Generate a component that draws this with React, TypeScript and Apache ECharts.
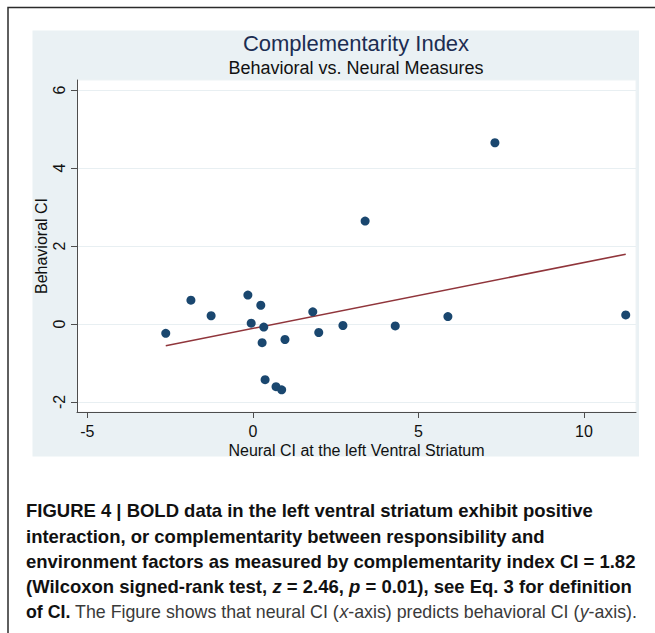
import React, { useEffect, useRef } from "react";
import * as echarts from "echarts";

// ---- data ----
const pointsX = [-2.63, -1.87, -1.26, -0.15, -0.05, 0.24, 0.33, 0.28, 0.97, 0.37, 0.7, 0.87, 1.81, 1.99, 2.72, 4.3, 5.89, 11.26, 3.39, 7.31];
const pointsY = [-0.24, 0.61, 0.21, 0.74, 0.02, 0.48, -0.08, -0.48, -0.4, -1.43, -1.61, -1.69, 0.31, -0.22, -0.04, -0.05, 0.19, 0.23, 2.64, 4.65];
const fitX = [-2.63, 11.26];
const fitY = [-0.56, 1.79];
const xTicks = [-5, 0, 5, 10];
const yTicks = [-2, 0, 2, 4, 6];
const xRange = [-5.31, 11.57];
const yRange = [-2.26, 6.26];

const titleText = "Complementarity Index";
const subtitleText = "Behavioral vs. Neural Measures";
const xName = "Neural CI at the left Ventral Striatum";
const yName = "Behavioral CI";

type Seg = [string, "b" | "bi" | "r" | "i"];
const captionLines: Seg[][] = [
  [["FIGURE 4 | BOLD data in the left ventral striatum exhibit positive", "b"]],
  [["interaction, or complementarity between responsibility and", "b"]],
  [["environment factors as measured by complementarity index CI = 1.82", "b"]],
  [
    ["(Wilcoxon signed-rank test, ", "b"],
    ["z", "bi"],
    [" = 2.46, ", "b"],
    ["p", "bi"],
    [" = 0.01), see Eq. 3 for definition", "b"],
  ],
  [
    ["of CI.", "b"],
    [" The Figure shows that neural CI (", "r"],
    ["x", "i"],
    ["-axis) predicts behavioral CI (", "r"],
    ["y", "i"],
    ["-axis).", "r"],
  ],
];

const FONT = "'Liberation Sans', Arial, Helvetica, sans-serif";
const CAP_SIZE = 18;

function segFont(kind: string) {
  const weight = kind === "b" || kind === "bi" ? "bold" : "normal";
  const style = kind === "bi" || kind === "i" ? "italic" : "normal";
  return { weight, style };
}

function buildCaption(): any[] {
  const canvas = document.createElement("canvas");
  const ctx = canvas.getContext("2d")!;
  const measure = (t: string, kind: string) => {
    const f = segFont(kind);
    ctx.font = `${f.style} ${f.weight} ${CAP_SIZE}px 'Liberation Sans', Arial, sans-serif`;
    return ctx.measureText(t).width;
  };
  const left = 26;
  const centers = [511, 536.5, 562, 587, 612];
  const widths = captionLines.map((line) => line.reduce((s, [t, k]) => s + measure(t, k), 0));
  const boldScale = (636 - left) / widths[2];
  const lastScale = (637 - left) / widths[4];
  return captionLines.map((line, i) => {
    let x = 0;
    const children = line.map(([t, k]) => {
      const f = segFont(k);
      const el = {
        type: "text",
        x,
        y: 0,
        style: {
          text: t,
          fontFamily: FONT,
          fontSize: CAP_SIZE,
          fontWeight: f.weight,
          fontStyle: f.style,
          fill: k === "b" || k === "bi" ? "#111" : "#3a3a3a",
          textAlign: "left",
          textVerticalAlign: "middle",
          verticalAlign: "middle",
        },
      };
      x += measure(t, k);
      return el;
    });
    return {
      type: "group",
      x: left,
      y: centers[i],
      scaleX: i === 4 ? lastScale : boldScale,
      children,
    };
  });
}

export default function App() {
  const ref = useRef<HTMLDivElement>(null);
  useEffect(() => {
    document.body.style.margin = "0";
    const chart = echarts.init(ref.current!, undefined, { renderer: "svg" });
    const option: any = {
      animation: false,
      backgroundColor: "#ffffff",
      grid: {
        left: 77,
        right: 19,
        top: 80,
        bottom: 221,
        show: true,
        backgroundColor: "#ffffff",
        borderColor: "#eef3f5",
        borderWidth: 1,
      },
      xAxis: {
        type: "value",
        min: xRange[0],
        max: xRange[1],
        name: xName,
        nameLocation: "middle",
        nameGap: 30,
        nameMoveOverlap: false,
        nameTextStyle: { fontFamily: FONT, fontSize: 16, color: "#111" },
        axisLine: { show: true, onZero: false, lineStyle: { color: "#4d4d4d", width: 1 } },
        axisTick: { show: true, length: 6, customValues: xTicks, lineStyle: { color: "#4d4d4d" } },
        axisLabel: { customValues: xTicks, fontFamily: FONT, fontSize: 16, color: "#111", margin: 11 },
        splitLine: { show: false },
      },
      yAxis: {
        type: "value",
        min: yRange[0],
        max: yRange[1],
        name: yName,
        nameLocation: "middle",
        nameGap: 28,
        nameMoveOverlap: false,
        nameRotate: 90,
        nameTextStyle: { fontFamily: FONT, fontSize: 16, color: "#111" },
        axisLine: { show: true, onZero: false, lineStyle: { color: "#4d4d4d", width: 1 } },
        axisTick: { show: true, length: 6, customValues: yTicks, lineStyle: { color: "#4d4d4d" } },
        axisLabel: { customValues: yTicks, rotate: 90, fontFamily: FONT, fontSize: 16, color: "#111", margin: 10 },
        splitLine: { show: true, lineStyle: { color: "#e8eff2", width: 1 } },
      },
      series: [
        {
          type: "line",
          data: fitX.map((x, i) => [x, fitY[i]]),
          symbol: "none",
          lineStyle: { color: "#90353b", width: 1.5 },
          z: 2,
        },
        {
          type: "scatter",
          data: pointsX.map((x, i) => [x, pointsY[i]]),
          symbol: "circle",
          symbolSize: 9,
          itemStyle: { color: "#1a476f", opacity: 1 },
          z: 3,
        },
      ],
      graphic: [
        {
          type: "rect",
          z: -100,
          shape: { x: 32.5, y: 30.5, width: 606.5, height: 426 },
          style: { fill: "#eaf1f4" },
          silent: true,
        },
        {
          type: "polyline",
          z: -50,
          shape: { points: [[8, 633], [8, 7.5], [655, 7.5]] },
          style: { stroke: "#2b2b2b", lineWidth: 1.5, fill: null },
          silent: true,
        },
        {
          type: "text",
          x: 356,
          y: 43,
          style: { text: titleText, fontFamily: FONT, fontSize: 22, fill: "#1c2d52", textAlign: "center", textVerticalAlign: "middle", verticalAlign: "middle" },
        },
        {
          type: "text",
          x: 356,
          y: 68,
          style: { text: subtitleText, fontFamily: FONT, fontSize: 18, fill: "#111", textAlign: "center", textVerticalAlign: "middle", verticalAlign: "middle" },
        },
        ...buildCaption(),
      ],
    };
    chart.setOption(option);
    return () => chart.dispose();
  }, []);
  return <div ref={ref} style={{ width: 655, height: 633 }} />;
}
